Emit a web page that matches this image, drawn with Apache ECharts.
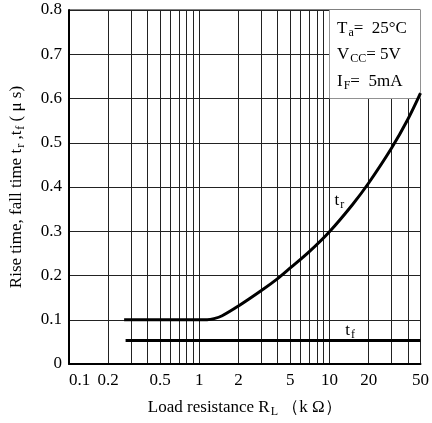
<!DOCTYPE html>
<html><head><meta charset="utf-8">
<script src="https://cdn.jsdelivr.net/npm/echarts@6/dist/echarts.min.js"></script>
<style>html,body{margin:0;padding:0;background:#fff}#c{width:432px;height:423px}</style>
</head><body><div id="c"></div>
<script>
var xGrid = [0.1,0.2,0.3,0.4,0.5,0.6,0.7,0.8,0.9,1,2,3,4,5,6,7,8,9,10,20,30,40,50];
var xLabels = [0.1,0.2,0.5,1,2,5,10,20,50];
var yTicks = [0,0.1,0.2,0.3,0.4,0.5,0.6,0.7,0.8];
var trData = [[0.265,0.1],[0.5,0.1],[1,0.1],[1.15,0.1],[1.3,0.1025],[1.5,0.109],[2,0.131],[3,0.166],[4,0.193],[5,0.217],[7,0.254],[10,0.299],[15,0.36],[20,0.409],[30,0.488],[40,0.553],[50,0.612]];
var tfData = [[0.272,0.053],[50,0.053]];

var serif = 'Liberation Serif';
var subStyle = {fontFamily:serif,fontSize:12,padding:[9,0,0,1]};
var chart = echarts.init(document.getElementById('c'), null, {renderer:'canvas'});
chart.setOption({
  animation:false,
  grid:{left:67,right:9,top:10,bottom:58,show:true,borderColor:'#000',borderWidth:1,backgroundColor:'transparent'},
  xAxis:{type:'log',logBase:10,min:0.1,max:50,
    name:'Load resistance R{s|L} \uff08k \u03a9\uff09',nameLocation:'middle',nameGap:33,
    nameTextStyle:{fontFamily:serif,fontSize:17,color:'#000',rich:{s:subStyle}},
    axisLine:{show:true,lineStyle:{color:'#000',width:2}},
    axisTick:{show:false,customValues:xGrid},
    axisLabel:{customValues:xLabels,fontFamily:serif,fontSize:17,color:'#000',margin:8,alignMinLabel:'left',
      formatter:function(v){return String(v);}},
    splitLine:{show:true,lineStyle:{color:'#222',width:1}}
  },
  yAxis:{type:'value',min:0,max:0.8,interval:0.1,
    name:'Rise time, fall time t{s|r} ,t{s|f} ( \u03bc s)',nameLocation:'middle',nameGap:42,
    nameTextStyle:{fontFamily:serif,fontSize:17,color:'#000',rich:{s:subStyle}},
    axisLine:{show:true,lineStyle:{color:'#000',width:2}},
    axisTick:{show:false},
    axisLabel:{fontFamily:serif,fontSize:17,color:'#000',margin:7,
      formatter:function(v){return v===0?'0':v.toFixed(1);}},
    splitLine:{show:true,lineStyle:{color:'#222',width:1}}
  },
  series:[
    {type:'line',data:[],z:1,silent:true,
     markArea:{silent:true,itemStyle:{color:'#fff',opacity:1},data:[[{coord:[10,0.6]},{coord:[50,0.8]}]]}},
    {type:'line',name:'tr',data:trData,smooth:0.35,showSymbol:false,z:5,
     lineStyle:{color:'#000',width:3},
     markPoint:{symbol:'circle',symbolSize:0,silent:true,
       label:{show:true,formatter:'t{s|r}',fontFamily:serif,fontSize:17,color:'#000',rich:{s:subStyle}},
       data:[{coord:[11.9,0.37]}]}},
    {type:'line',name:'tf',data:tfData,showSymbol:false,z:5,
     lineStyle:{color:'#000',width:3},
     markPoint:{symbol:'circle',symbolSize:0,silent:true,
       label:{show:true,formatter:'t{s|f}',fontFamily:serif,fontSize:17,color:'#000',rich:{s:subStyle}},
       data:[{coord:[14.4,0.076]}]}}
  ],
  graphic:[{type:'text',left:337,top:15,z:10,style:{
    text:'T{s|a}=  25\u00b0C\nV{s|CC}= 5V\nI{s|F}=  5mA',
    fontFamily:serif,fontSize:17,fill:'#000',lineHeight:26.5,
    rich:{s:{fontFamily:serif,fontSize:12,padding:[9,0,0,1],lineHeight:26.5}}
  }}]
});
</script></body></html>
